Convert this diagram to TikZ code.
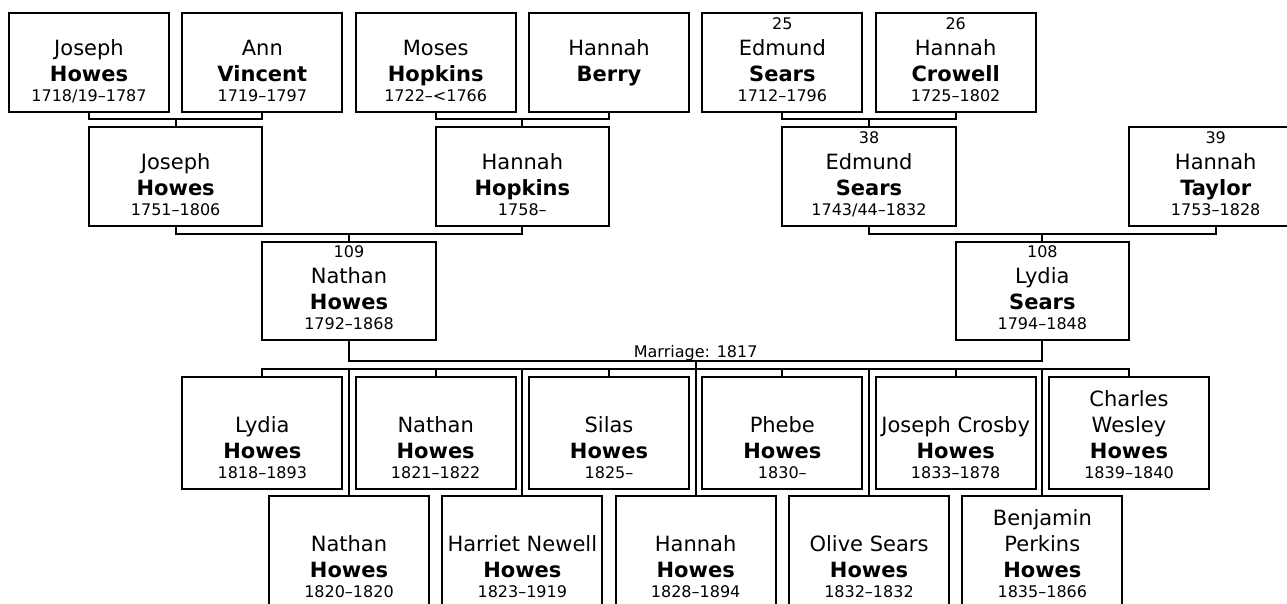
\documentclass[tikz,border=0pt]{standalone}
\usepackage{fontspec}
\setmainfont{DejaVu Sans}
\newcommand{\namef}{\fontsize{21}{25}\selectfont}
\newcommand{\datef}{\fontsize{16}{19}\selectfont}
\newcommand{\numf}{\fontsize{16}{19}\selectfont}
\tikzset{
  pbox/.style={draw, line width=2pt, rectangle, inner sep=0pt, outer sep=0pt, fill=white},
  ptxt/.style={inner sep=0pt, outer sep=0pt, anchor=base},
  conn/.style={draw, line width=2pt},
}
\newcommand{\person}[9]{%
  \node[pbox, minimum width=#4, minimum height=#5, anchor=north] (#1) at (#2,#3) {};
  \node[ptxt] (#1-a) at ([yshift=82.5pt]#1.south) {#6};
  \node[ptxt] (#1-b) at ([yshift=57pt]#1.south) {\namef #7};
  \node[ptxt] (#1-c) at ([yshift=31pt]#1.south) {\namef\bfseries #8};
  \node[ptxt] (#1-d) at ([yshift=11pt]#1.south) {\datef #9};
}
\begin{document}
\begin{tikzpicture}[x=1pt,y=-1pt]
\path[use as bounding box] (0,0) rectangle (1287,603);
\clip (0,0) rectangle (1287,603);
% generation 0
\person{g0a}{89}{13}{160pt}{99pt}{}{Joseph}{Howes}{1718/19–1787}
\person{g0b}{262.33}{13}{160pt}{99pt}{}{Ann}{Vincent}{1719–1797}
\person{g0c}{435.67}{13}{160pt}{99pt}{}{Moses}{Hopkins}{1722–<1766}
\person{g0d}{609}{13}{160pt}{99pt}{}{Hannah}{Berry}{}
\person{g0e}{782.33}{13}{160pt}{99pt}{\numf 25}{Edmund}{Sears}{1712–1796}
\person{g0f}{955.67}{13}{160pt}{99pt}{\numf 26}{Hannah}{Crowell}{1725–1802}
% generation 1
\person{g1a}{175.67}{127}{173.3pt}{99pt}{}{Joseph}{Howes}{1751–1806}
\person{g1b}{522.33}{127}{173.3pt}{99pt}{}{Hannah}{Hopkins}{1758–}
\person{g1c}{869}{127}{173.3pt}{99pt}{\numf 38}{Edmund}{Sears}{1743/44–1832}
\person{g1d}{1215.67}{127}{173.3pt}{99pt}{\numf 39}{Hannah}{Taylor}{1753–1828}
% generation 2
\person{g2a}{349}{242}{173.3pt}{98pt}{\numf 109}{Nathan}{Howes}{1792–1868}
\person{g2b}{1042.33}{242}{173.3pt}{98pt}{\numf 108}{Lydia}{Sears}{1794–1848}
% children row 1
\person{c1}{262.33}{376.7}{160pt}{112.3pt}{}{Lydia}{Howes}{1818–1893}
\person{c3}{435.67}{376.7}{160pt}{112.3pt}{}{Nathan}{Howes}{1821–1822}
\person{c5}{609}{376.7}{160pt}{112.3pt}{}{Silas}{Howes}{1825–}
\person{c7}{782.33}{376.7}{160pt}{112.3pt}{}{Phebe}{Howes}{1830–}
\person{c9}{955.67}{376.7}{160pt}{112.3pt}{}{Joseph Crosby}{Howes}{1833–1878}
\person{c11}{1129}{376.7}{160pt}{112.3pt}{\namef Charles}{Wesley}{Howes}{1839–1840}
% children row 2
\person{c2}{349}{495.7}{160pt}{112.3pt}{}{Nathan}{Howes}{1820–1820}
\person{c4}{522.33}{495.7}{160pt}{112.3pt}{}{Harriet Newell}{Howes}{1823–1919}
\person{c6}{695.67}{495.7}{160pt}{112.3pt}{}{Hannah}{Howes}{1828–1894}
\person{c8}{869}{495.7}{160pt}{112.3pt}{}{Olive Sears}{Howes}{1832–1832}
\person{c10}{1042.33}{495.7}{160pt}{112.3pt}{\namef Benjamin}{Perkins}{Howes}{1835–1866}
% family connectors
\coordinate (f0a) at (175.67,119.3);
\coordinate (f0b) at (522.33,119.3);
\coordinate (f0c) at (869,119.3);
\coordinate (f1a) at (349,234);
\coordinate (f1b) at (1042.33,234);
\coordinate (m) at (695.67,360.7);
\coordinate (bar) at (695.67,368.7);
\draw[conn] (g0a.south) |- (f0a) -| (g0b.south);
\draw[conn] (f0a) -- (g1a.north);
\draw[conn] (g0c.south) |- (f0b) -| (g0d.south);
\draw[conn] (f0b) -- (g1b.north);
\draw[conn] (g0e.south) |- (f0c) -| (g0f.south);
\draw[conn] (f0c) -- (g1c.north);
\draw[conn] (g1a.south) |- (f1a) -| (g1b.south);
\draw[conn] (f1a) -- (g2a.north);
\draw[conn] (g1c.south) |- (f1b) -| (g1d.south);
\draw[conn] (f1b) -- (g2b.north);
% marriage
\draw[conn] (g2a.south) |- (m) -| (g2b.south);
\node[ptxt] (mlab) at (695.67,357) {\datef Marriage: 1817};
\draw[conn] (m) -- (c6.north);
% children bar
\draw[conn] (c1.north) |- (bar) -| (c11.north);
\foreach \c in {c3,c5,c7,c9,c2,c4,c8,c10}{
  \draw[conn] (\c.north) -- (\c.north |- bar);
}
\end{tikzpicture}
\end{document}
